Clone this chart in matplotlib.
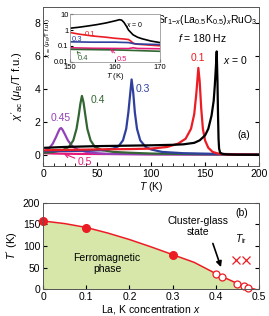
import numpy as np
import matplotlib
matplotlib.use('Agg')
import matplotlib.pyplot as plt

plt.rcParams['font.family'] = ['Liberation Sans', 'DejaVu Sans']
plt.rcParams['mathtext.fontset'] = 'custom'
plt.rcParams['mathtext.rm'] = 'Liberation Sans'
plt.rcParams['mathtext.it'] = 'Liberation Sans:italic'
plt.rcParams['mathtext.bf'] = 'Liberation Sans:bold'

# ---- panel (a) data: chi'_ac vs T ----
T0 = [2, 20, 50, 80, 100, 120, 130, 140, 145, 150, 153, 156, 158, 159, 160, 160.8, 161.5, 162, 162.5, 163, 164, 166, 170, 180, 200]
c0 = [0.45, 0.5, 0.55, 0.58, 0.6, 0.63, 0.66, 0.75, 0.9, 1.2, 1.6, 2.4, 3.3, 4.2, 5.3, 6.3, 4.5, 2.5, 1.0, 0.4, 0.15, 0.08, 0.05, 0.03, 0.02]
T1 = [2, 20, 50, 80, 100, 115, 125, 132, 137, 140, 142, 143.8, 145, 146.5, 148, 150, 153, 157, 162, 170, 200]
c1 = [0.3, 0.32, 0.35, 0.37, 0.4, 0.5, 0.7, 1.0, 1.6, 2.5, 3.8, 5.3, 4.5, 2.8, 1.6, 0.9, 0.45, 0.2, 0.1, 0.05, 0.03]
T3 = [2, 20, 40, 55, 65, 70, 74, 77, 79, 80.5, 82, 83.5, 85, 87, 90, 95, 100, 110, 130, 160, 200]
c3 = [0.25, 0.25, 0.27, 0.3, 0.4, 0.55, 0.9, 1.6, 2.6, 3.6, 4.6, 3.8, 2.6, 1.6, 0.9, 0.5, 0.35, 0.2, 0.12, 0.08, 0.04]
T4 = [2, 10, 18, 24, 28, 31, 33, 34.5, 36, 37.5, 39, 41, 44, 48, 55, 65, 80, 100, 150, 200]
c4 = [0.15, 0.2, 0.3, 0.5, 0.9, 1.6, 2.4, 3.1, 3.6, 3.2, 2.5, 1.6, 0.9, 0.5, 0.3, 0.2, 0.15, 0.1, 0.06, 0.04]
T45 = [3, 6, 9, 12, 14, 15.5, 16.7, 18, 20, 23, 27, 32, 40, 50, 60, 100, 200]
c45 = [0.3, 0.45, 0.7, 1.1, 1.4, 1.6, 1.65, 1.55, 1.3, 0.9, 0.55, 0.35, 0.2, 0.12, 0.08, 0.05, 0.03]
T5 = [2, 10, 30, 60, 100, 150, 200]
c5 = [0.12, 0.1, 0.08, 0.07, 0.06, 0.05, 0.03]

# ---- inset data (log scale, 150-170 K) ----
iT0 = [150, 152, 154, 156, 158, 160, 161, 161.5, 162, 162.5, 163, 164, 165, 166, 168, 170]
ic0 = [1.3, 1.5, 1.8, 2.2, 2.8, 3.8, 4.5, 4.2, 3.0, 1.8, 1.0, 0.5, 0.35, 0.28, 0.2, 0.16]
iT1 = [150, 152, 155, 158, 160, 162, 163, 163.5, 164, 164.5, 166, 170]
ic1 = [0.7, 0.55, 0.42, 0.35, 0.3, 0.27, 0.25, 0.2, 0.15, 0.13, 0.12, 0.1]
iT3 = [150, 155, 160, 163, 164, 165, 170]
ic3 = [0.18, 0.17, 0.17, 0.16, 0.14, 0.13, 0.12]
iT5 = [150, 155, 160, 163, 164, 165, 170]
ic5 = [0.075, 0.07, 0.068, 0.067, 0.075, 0.068, 0.065]
iT4 = [150, 160, 165, 170]
ic4 = [0.06, 0.055, 0.05, 0.045]

# ---- panel (b) data: phase diagram ----
bx = [0, 0.05, 0.1, 0.15, 0.2, 0.25, 0.3, 0.35, 0.4, 0.415, 0.45, 0.466, 0.475, 0.49]
bT = [158, 152, 143, 130, 115, 98, 80, 62, 36, 29, 13, 7, 3, 0]
fm_x = [0, 0.1, 0.3]
fm_T = [158, 142, 80]
cg_x = [0.4, 0.415, 0.45, 0.466, 0.475]
cg_T = [34, 28, 12, 7, 2]
ir_x = [0.446, 0.47]
ir_T = [68, 68]

black = 'black'
red = '#ec1c24'
blue = '#2e3f9e'
green = '#336633'
purple = '#9440b8'
pink = '#e6197a'

fig = plt.figure(figsize=(2.69, 3.16), dpi=100)
fs = 7.5

ax = fig.add_axes([0.160, 0.475, 0.803, 0.503])
ax.plot(T5, c5, color=pink, lw=1.6, zorder=2)
ax.plot(T45, c45, color=purple, lw=1.6)
ax.plot(T4, c4, color=green, lw=1.6)
ax.plot(T3, c3, color=blue, lw=1.6)
ax.plot(T1, c1, color=red, lw=1.6)
ax.plot(T0, c0, color=black, lw=1.6)
ax.set_xlim(0, 200)
ax.set_ylim(-0.65, 9.0)
ax.set_yticks([0, 2, 4, 6, 8])
ax.set_xticks([0, 50, 100, 150, 200])
ax.set_xticks(np.arange(0, 201, 10), minor=True)
ax.tick_params(direction='in', right=True, labelsize=fs, length=3, pad=2)
ax.tick_params(which='minor', direction='in', length=2)
ax.set_xlabel('$T$ (K)', fontsize=fs, labelpad=1)
ax.set_ylabel(r"$\chi'_{\rm ac}$ ($\mu_{\rm B}$/T f.u.)", fontsize=8, labelpad=7)
for s in ax.spines.values():
    s.set_color('#555555')
    s.set_linewidth(0.7)

ax.text(152, 8.2, r"Sr$_{1\mathrm{-}x}$(La$_{0.5}$K$_{0.5}$)$_x$RuO$_3$", fontsize=7.5, ha='center', va='center')
ax.text(148, 7.1, '$f$ = 180 Hz', fontsize=7.5, ha='center', va='center')
ax.text(178, 5.8, '$x$ = 0', fontsize=7.5, ha='center', va='center')
ax.text(143.5, 5.9, '0.1', fontsize=7.5, ha='center', va='center', color=red)
ax.text(92, 4.0, '0.3', fontsize=7.5, ha='center', va='center', color=blue)
ax.text(51, 3.35, '0.4', fontsize=7.5, ha='center', va='center', color=green)
ax.text(16.7, 2.25, '0.45', fontsize=7.5, ha='center', va='center', color=purple)
ax.text(186, 1.2, '(a)', fontsize=7.5, ha='center', va='center')
ax.annotate('0.5', xy=(19, 0.1), xytext=(32, -0.43), fontsize=7.5, color=pink,
            ha='left', va='center',
            arrowprops=dict(arrowstyle='->', color=pink, lw=0.8, shrinkA=0, shrinkB=0))

# inset
ins = fig.add_axes([0.260, 0.805, 0.335, 0.150])
ins.semilogy(iT0, ic0, color=black, lw=1.2)
ins.semilogy(iT1, ic1, color=red, lw=1.2)
ins.semilogy(iT3, ic3, color=blue, lw=1.2)
ins.semilogy(iT5, ic5, color=pink, lw=1.2)
ins.semilogy(iT4, ic4, color=green, lw=1.2)
ins.set_xlim(150, 170)
ins.set_ylim(0.01, 10)
ins.set_xticks([150, 160, 170])
ins.set_yticks([0.01, 0.1, 1, 10])
ins.set_yticklabels(['0.01', '0.1', '1', '10'])
ins.minorticks_off()
ins.tick_params(direction='in', labelsize=5.5, length=2, pad=1)
ins.tick_params(axis='x', pad=2)
ins.set_xlabel('$T$ (K)', fontsize=5.5, labelpad=0)
ins.set_ylabel(r"$\chi'_{\rm ac}$ ($\mu_{\rm B}$/T f.u.)", fontsize=4.5, labelpad=0.5)
for s in ins.spines.values():
    s.set_color('#999999')
    s.set_linewidth(0.6)
ins.text(162.5, 2.1, '$x$ = 0', fontsize=5, ha='left', va='center')
ins.text(154.5, 0.5, '0.1', fontsize=5.5, ha='center', va='center', color=red)
ins.text(150.3, 0.26, '0.3', fontsize=5.5, ha='left', va='center', color=blue)
ins.annotate('0.4', xy=(151.5, 0.045), xytext=(151.8, 0.016), fontsize=5.5, color=green,
             ha='left', va='center',
             arrowprops=dict(arrowstyle='->', color=green, lw=0.6, shrinkA=0, shrinkB=0))
ins.annotate('0.5', xy=(159, 0.062), xytext=(160.3, 0.014), fontsize=5.5, color=pink,
             ha='left', va='center',
             arrowprops=dict(arrowstyle='->', color=pink, lw=0.6, shrinkA=0, shrinkB=0))

# panel (b)
bx_ax = fig.add_axes([0.160, 0.085, 0.803, 0.273])
bx_ax.fill_between(bx, bT, 0, color='#d6e7a9', lw=0)
bx_ax.plot(bx, bT, color=red, lw=1.1)
bx_ax.plot(fm_x, fm_T, 'o', color=red, ms=5.5, clip_on=False)
bx_ax.plot(cg_x, cg_T, 'o', mfc='white', mec=red, mew=0.9, ms=5, clip_on=False)
bx_ax.plot(ir_x, ir_T, 'x', color=red, ms=5.5, mew=0.9)
bx_ax.set_xlim(0, 0.5)
bx_ax.set_ylim(0, 200)
bx_ax.set_xticks([0, 0.1, 0.2, 0.3, 0.4, 0.5])
bx_ax.set_xticklabels(['0', '0.1', '0.2', '0.3', '0.4', '0.5'])
bx_ax.set_yticks([0, 50, 100, 150, 200])
bx_ax.tick_params(direction='in', right=True, labelsize=fs, length=3, pad=2)
bx_ax.set_xlabel('La, K concentration $x$', fontsize=fs, labelpad=1)
bx_ax.set_ylabel("$T'$ (K)", fontsize=8, labelpad=2)
for s in bx_ax.spines.values():
    s.set_color('#555555')
    s.set_linewidth(0.7)
bx_ax.text(0.148, 59, 'Ferromagnetic\nphase', fontsize=7.5, ha='center', va='center', linespacing=1.1)
bx_ax.text(0.359, 146, 'Cluster-glass\nstate', fontsize=7.5, ha='center', va='center', linespacing=1.1)
bx_ax.annotate('', xy=(0.414, 45), xytext=(0.391, 112),
               arrowprops=dict(arrowstyle='-|>', color='black', lw=1.2, mutation_scale=8))
bx_ax.text(0.458, 115, r'$T_{\rm ir}$', fontsize=7.5, ha='center', va='center')
bx_ax.text(0.46, 176, '(b)', fontsize=7.5, ha='center', va='center')

fig.savefig('out.png', dpi=100)
